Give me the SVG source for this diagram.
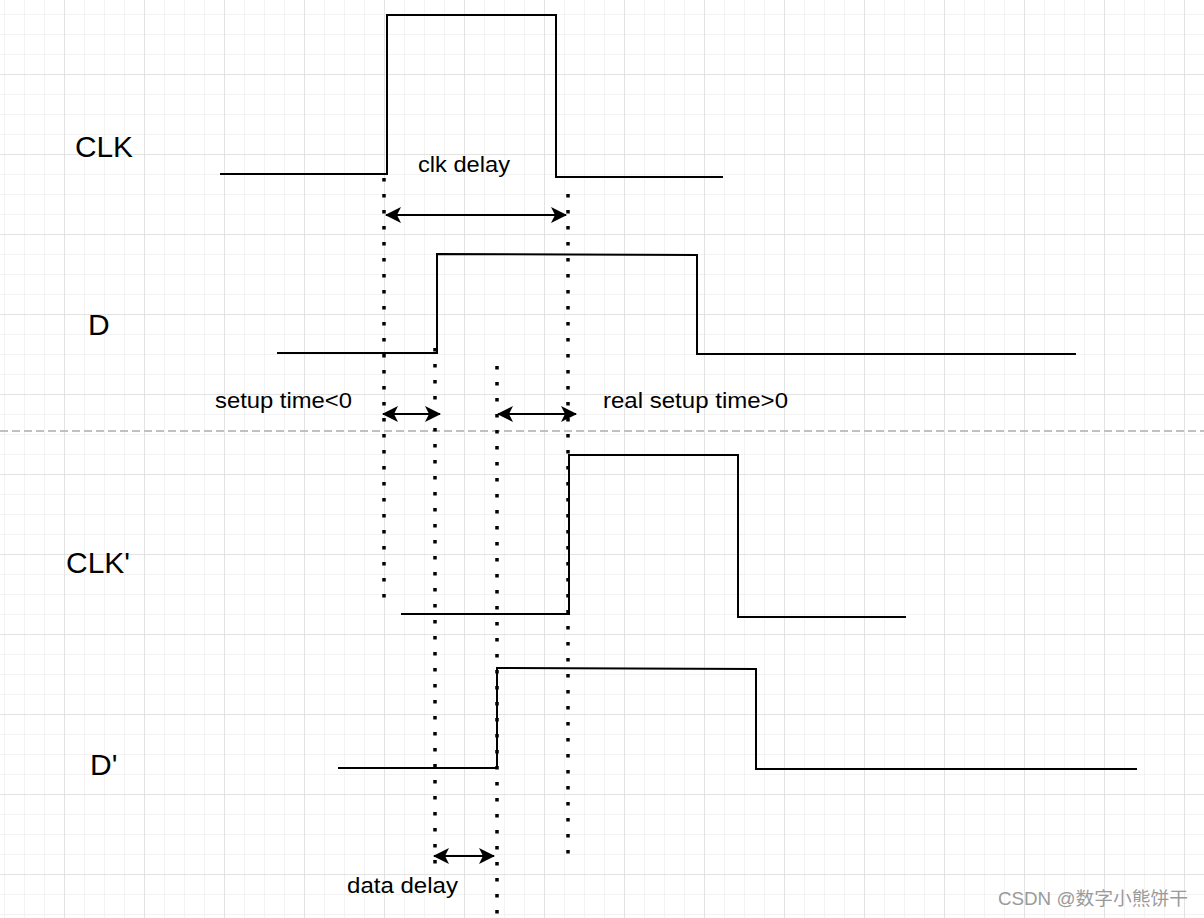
<svg xmlns="http://www.w3.org/2000/svg" width="1204" height="918" viewBox="0 0 1204 918">
<defs>
<pattern id="minor" x="4" y="14" width="20" height="20" patternUnits="userSpaceOnUse">
<path d="M0 0H20M0 0V20" fill="none" stroke="#f0f0f0" stroke-width="1.5"/>
</pattern>
<pattern id="major" x="64" y="74" width="80" height="80" patternUnits="userSpaceOnUse">
<path d="M0 0H80M0 0V80" fill="none" stroke="#d4d4d4" stroke-width="1"/>
</pattern>
<marker id="ah" viewBox="0 0 16 16" refX="15" refY="8" markerWidth="16" markerHeight="16" markerUnits="userSpaceOnUse" orient="auto-start-reverse">
<path d="M0 0 L16 8 L0 16 L4 8 Z" fill="#000"/>
</marker>
<style>
.wave{fill:none;stroke:#000;stroke-width:2}
.dot{fill:none;stroke:#000;stroke-width:3.5;stroke-dasharray:3.5 12.5}
.arr{fill:none;stroke:#000;stroke-width:2;marker-start:url(#ah);marker-end:url(#ah)}
.big{font-family:"Liberation Sans",Arial,sans-serif;font-size:30px;fill:#000}
.lbl{font-family:"Liberation Sans",Arial,sans-serif;font-size:22px;fill:#000}
</style>
</defs>
<rect width="1204" height="918" fill="#fff"/>
<rect width="1204" height="918" fill="url(#minor)"/>
<rect width="1204" height="918" fill="url(#major)"/>
<line x1="0" y1="431" x2="1204" y2="431" stroke="#c0c0c0" stroke-width="2" stroke-dasharray="8 4"/>
<g id="clk"><path class="wave" d="M220 174H387V15H556V177H723"/><text class="big" x="75" y="157" textLength="58" lengthAdjust="spacingAndGlyphs">CLK</text></g>
<g id="d"><path class="wave" d="M277 353H437V254L697 255V354H1076"/><text class="big" x="88" y="335">D</text></g>
<g id="clk2"><path class="wave" d="M401 614H569V455H738V617H906"/><text class="big" x="66" y="573" textLength="64" lengthAdjust="spacingAndGlyphs">CLK'</text></g>
<g id="d2"><path class="wave" d="M338 768H497V668L756 669V769H1137"/><text class="big" x="90" y="775">D'</text></g>
<g id="connectors">
<line class="dot" x1="384" y1="178" x2="384" y2="600"/>
<line class="dot" x1="568" y1="194" x2="568" y2="858"/>
<line class="dot" x1="435" y1="348" x2="435" y2="872"/>
<line class="dot" x1="497" y1="366" x2="497" y2="916"/>
<line class="arr" x1="386" y1="215" x2="566" y2="215"/>
<line class="arr" x1="383" y1="414" x2="440" y2="414"/>
<line class="arr" x1="498" y1="414" x2="576" y2="414"/>
<line class="arr" x1="434" y1="856" x2="494" y2="856"/>
</g>
<g id="labels">
<text class="lbl" x="418" y="172" textLength="92" lengthAdjust="spacingAndGlyphs">clk delay</text>
<text class="lbl" x="215" y="408" textLength="137" lengthAdjust="spacingAndGlyphs">setup time&lt;0</text>
<text class="lbl" x="603" y="408" textLength="185" lengthAdjust="spacingAndGlyphs">real setup time&gt;0</text>
<text class="lbl" x="347" y="893" textLength="111" lengthAdjust="spacingAndGlyphs">data delay</text>
<text x="998" y="905" font-family="'Liberation Sans','Noto Sans CJK SC',sans-serif" font-size="18" fill="#9a9a9a" textLength="190" lengthAdjust="spacingAndGlyphs">CSDN @数字小熊饼干</text>
</g>
</svg>
